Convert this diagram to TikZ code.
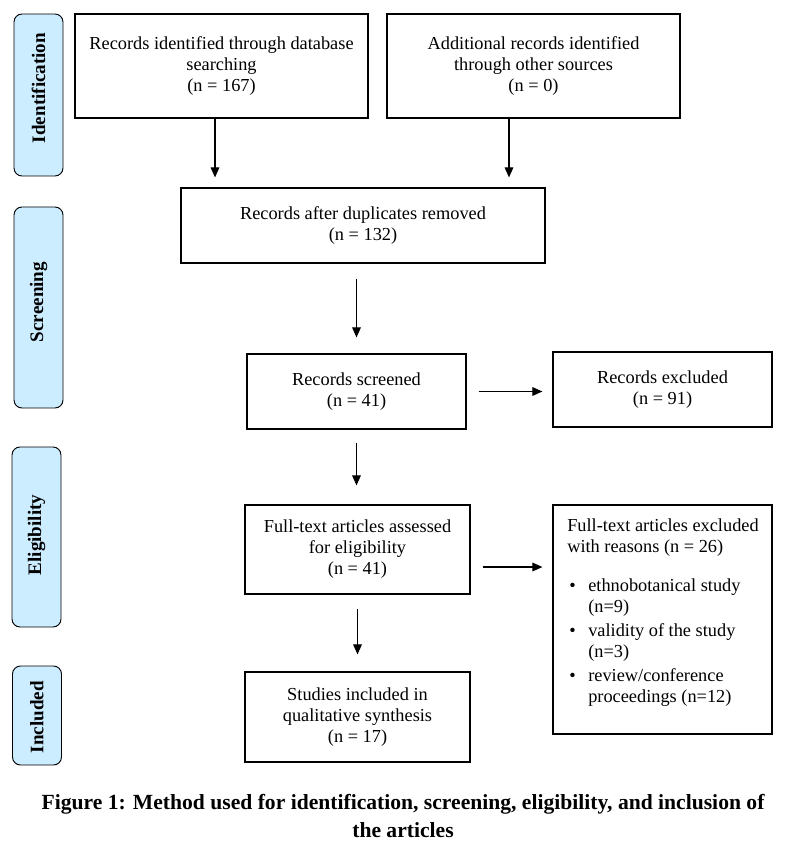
\documentclass[tikz,border=0pt]{standalone}
\usepackage{fontspec}
\setmainfont{Liberation Serif}
\usetikzlibrary{arrows.meta,calc}
\definecolor{sideblue}{RGB}{204,236,255}
\begin{document}
\begin{tikzpicture}[x=0.75pt,y=-0.75pt,
  box/.style={draw, line width=0.9pt, align=center, inner sep=0pt, font=\fontsize{13.75}{15.75}\selectfont},
  side/.style={draw, line width=0.7pt, rounded corners=6pt, fill=sideblue, inner sep=0pt, minimum width=36.75pt},
  sidetext/.style={rotate=90, inner sep=0pt, font=\fontsize{14.3}{16}\selectfont\bfseries},
  arr/.style={-{Triangle[length=7.5pt,width=6.5pt]}, line width=0.8pt}]
\useasboundingbox (0,0) rectangle (786,852);
% side labels
\node[side, minimum height=121.5pt] (s1) at (38.5,95) {};
\node[sidetext] (s1t) at (38.5,88) {Identification};
\node[side, minimum height=150.75pt] (s2) at (38.5,307.5) {};
\node[sidetext] (s2t) at (38.5,302) {Screening};
\node[side, minimum height=135pt] (s3) at (36.5,537) {};
\node[sidetext] (s3t) at (36.5,535) {Eligibility};
\node[side, minimum height=74.25pt] (s4) at (37,715.5) {};
\node[sidetext] (s4t) at (37,717) {Included};
% boxes
\node[box, minimum width=219.75pt, minimum height=78pt] (b1) at (221.5,66) {Records identified through database\\searching\\(n = 167)};
\node[box, minimum width=219.75pt, minimum height=78pt] (b2) at (533.5,66) {Additional records identified\\through other sources\\(n = 0)};
\node[box, minimum width=273pt, minimum height=56.25pt] (b3) at (363,225.5) {Records after duplicates removed\\(n = 132)};
\node[box, minimum width=164.25pt, minimum height=56.25pt] (b4) at (356.5,391.5) {Records screened\\(n = 41)};
\node[box, minimum width=164.25pt, minimum height=56.25pt] (b5) at (662.5,389.5) {Records excluded\\(n = 91)};
\node[box, minimum width=168.75pt, minimum height=66.75pt] (b6) at (357.5,549.5) {Full-text articles assessed\\for eligibility\\(n = 41)};
\node[box, minimum width=164.25pt, minimum height=171.75pt] (b7) at (662.5,619.5) {};
\node[anchor=north west, inner sep=0pt, align=left, font=\fontsize{13.75}{15.75}\selectfont] (b7t) at (567,519)
{Full-text articles excluded\\with reasons (n = 26)\\[13.5pt]
\makebox[15.75pt][l]{\hspace{1.5pt}\textbullet}ethnobotanical study\\\hspace*{15.75pt}(n=9)\\[2.25pt]
\makebox[15.75pt][l]{\hspace{1.5pt}\textbullet}validity of the study\\\hspace*{15.75pt}(n=3)\\[2.25pt]
\makebox[15.75pt][l]{\hspace{1.5pt}\textbullet}review/conference\\\hspace*{15.75pt}proceedings (n=12)};
\node[box, minimum width=168.75pt, minimum height=67.5pt] (b8) at (357.5,717) {Studies included in\\qualitative synthesis\\(n = 17)};
% arrows
\draw[arr, shorten >=7.5pt] ($(b1.south)+(-6.5,0)$) -- ($(b3.north)+(-148,0)$);
\draw[arr, shorten >=7.5pt] ($(b2.south)+(-24.5,0)$) -- ($(b3.north)+(146,0)$);
\draw[arr, shorten <=11.25pt, shorten >=12pt] (b3.south -| b4.north) -- (b4.north);
\draw[arr, shorten <=9pt, shorten >=7.5pt] (b4.east) -- (b4.east -| b5.west);
\draw[arr, shorten <=9.75pt, shorten >=14.25pt] (b4.south) -- (b4.south |- b6.north);
\draw[arr, shorten <=9pt, shorten >=7.5pt] ($(b6.east)+(0,17.5)$) coordinate (c6) -- (c6 -| b7.west);
\draw[arr, shorten <=10.5pt, shorten >=12.75pt] (b6.south) -- (b8.north);
% caption
\node[align=center, font=\fontsize{16.2}{21}\selectfont\bfseries] (cap) at (403,816) {Figure 1: Method used for identification, screening, eligibility, and inclusion of\\the articles};
\end{tikzpicture}
\end{document}
